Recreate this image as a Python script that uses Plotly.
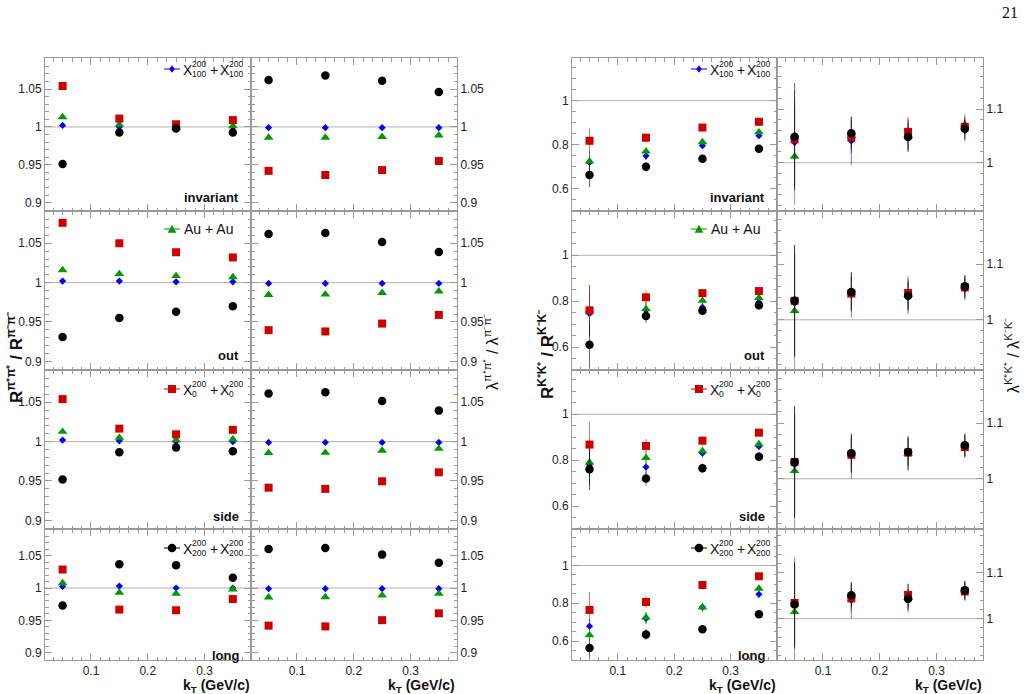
import plotly.graph_objects as go

# ---------------- data ----------------
kT = [0.05, 0.15, 0.25, 0.35]
series_names = ["X100", "AuAu", "X0", "X200"]   # blue, green, red, black

# pion radius ratios R(pi+pi+)/R(pi-pi-)  [blue, green, red, black]
Rpi_inv = [[1.002, 1.000, 1.000, 1.000], [1.013, 1.003, 0.999, 1.001],
           [1.054, 1.011, 1.0035, 1.009], [0.951, 0.9925, 0.998, 0.9925]]
Rpi_out = [[1.002, 1.002, 1.001, 1.001], [1.016, 1.011, 1.0085, 1.007],
           [1.076, 1.050, 1.0386, 1.032], [0.931, 0.955, 0.963, 0.970]]
Rpi_side = [[1.002, 1.001, 1.000, 1.000], [1.0127, 1.005, 1.002, 1.003],
            [1.054, 1.0165, 1.0093, 1.015], [0.952, 0.9864, 0.9924, 0.9877]]
Rpi_long = [[1.0025, 1.003, 1.000, 1.000], [1.0077, 0.9928, 0.9913, 0.998],
            [1.0285, 0.9667, 0.9657, 0.983], [0.973, 1.0367, 1.035, 1.0158]]

# pion lambda ratios
Lpi_inv = [[0.999, 0.999, 0.999, 0.999], [0.986, 0.986, 0.987, 0.989],
           [0.942, 0.9365, 0.943, 0.955], [1.062, 1.068, 1.061, 1.046]]
Lpi_out = [[0.999, 0.999, 0.999, 0.999], [0.9845, 0.985, 0.987, 0.989],
           [0.9396, 0.938, 0.948, 0.959], [1.0617, 1.063, 1.0517, 1.039]]
Lpi_side = [[0.999, 0.999, 0.999, 0.999], [0.9856, 0.986, 0.9886, 0.991],
            [0.9415, 0.940, 0.9496, 0.961], [1.061, 1.0627, 1.0517, 1.0394]]
Lpi_long = [[0.999, 0.999, 0.999, 0.999], [0.9857, 0.986, 0.9887, 0.9913],
            [0.942, 0.9408, 0.9504, 0.961], [1.060, 1.0617, 1.0515, 1.0388]]
pi_err = [[0.003] * 4, [0.001] * 4, [0.001] * 4, [0.001] * 4]

# kaon radius ratios
RK_inv = [[0.72, 0.750, 0.796, 0.841], [0.725, 0.770, 0.812, 0.857],
          [0.818, 0.832, 0.878, 0.904], [0.663, 0.700, 0.737, 0.782]]
RK_inv_err = [[0.05, 0.02, 0.015, 0.01], [0.04, 0.02, 0.015, 0.015],
              [0.055, 0.02, 0.012, 0.01], [0.055, 0.02, 0.015, 0.012]]
RK_out = [[0.745, 0.76, 0.774, 0.796], [0.76, 0.766, 0.802, 0.814],
          [0.760, 0.817, 0.835, 0.844], [0.610, 0.735, 0.758, 0.782]]
RK_out_err = [[0.1, 0.03, 0.02, 0.015], [0.11, 0.03, 0.02, 0.015],
              [0.11, 0.03, 0.015, 0.012], [0.1, 0.03, 0.02, 0.02]]
RK_side = [[0.78, 0.77, 0.83, 0.86], [0.79, 0.81, 0.84, 0.87],
           [0.868, 0.862, 0.885, 0.92], [0.76, 0.72, 0.765, 0.815]]
RK_side_err = [[0.09, 0.03, 0.02, 0.015], [0.1, 0.03, 0.02, 0.015],
               [0.1, 0.03, 0.02, 0.015], [0.09, 0.03, 0.02, 0.02]]
RK_long = [[0.679, 0.72, 0.78, 0.848], [0.631, 0.725, 0.778, 0.878],
           [0.765, 0.807, 0.897, 0.943], [0.564, 0.635, 0.663, 0.742]]
RK_long_err = [[0.04, 0.03, 0.02, 0.02], [0.03, 0.03, 0.025, 0.02],
               [0.095, 0.03, 0.015, 0.015], [0.05, 0.03, 0.012, 0.015]]

# kaon lambda ratios
LK_inv = [[1.0375, 1.0405, 1.05, 1.06], [1.0115, 1.05, 1.05, 1.071],
          [1.0436, 1.047, 1.0575, 1.0667], [1.0484, 1.055, 1.048, 1.063]]
LK_inv_err = [[0.08, 0.045, 0.03, 0.02], [0.09, 0.03, 0.03, 0.02],
              [0.09, 0.03, 0.028, 0.02], [0.10, 0.031, 0.025, 0.02]]
LK_out = [[1.03, 1.045, 1.04, 1.055], [1.016, 1.048, 1.045, 1.06],
          [1.034, 1.047, 1.048, 1.058], [1.034, 1.05, 1.043, 1.06]]
LK_out_err = [[0.09, 0.04, 0.03, 0.02], [0.1, 0.03, 0.03, 0.02],
              [0.1, 0.03, 0.03, 0.02], [0.1, 0.035, 0.025, 0.02]]
LK_side = [[1.025, 1.04, 1.045, 1.06], [1.014, 1.045, 1.045, 1.06],
           [1.03, 1.043, 1.047, 1.057], [1.03, 1.046, 1.048, 1.06]]
LK_side_err = [[0.09, 0.04, 0.03, 0.02], [0.1, 0.03, 0.03, 0.02],
               [0.1, 0.03, 0.03, 0.02], [0.1, 0.035, 0.025, 0.02]]
LK_long = [[1.03, 1.04, 1.045, 1.06], [1.0146, 1.05, 1.045, 1.062],
           [1.034, 1.044, 1.0517, 1.059], [1.0306, 1.051, 1.043, 1.062]]
LK_long_err = [[0.09, 0.04, 0.03, 0.02], [0.1, 0.03, 0.03, 0.02],
               [0.1, 0.03, 0.025, 0.02], [0.093, 0.027, 0.022, 0.02]]

projections = ["invariant", "out", "side", "long"]
legend_labels = [("X", "200", "100"), ("Au + Au", None, None),
                 ("X", "200", "0"), ("X", "200", "200")]

# ---------------- style ----------------
W, H = 1028, 694
col_px = [(45, 251), (251, 457), (572, 777), (777, 983)]
row_px = [(58, 211), (211, 370), (370, 529), (529, 660)]
colors = ["#0000ff", "#009900", "#cc0000", "#000000"]
err_colors = ["rgba(0,0,255,0.55)", "rgba(0,153,0,0.6)", "rgba(204,0,0,0.55)", "rgba(0,0,0,0.6)"]
symbols = ["diamond", "triangle-up", "square", "circle"]
msizes = [5.5, 8.5, 8, 8.5]
FRAME = "#9a9a9a"
FONT = "Liberation Sans"


def fx(px):
    return px / W


def fy(py):
    return 1 - py / H


panels = [
    [(Rpi_inv, pi_err), (Lpi_inv, pi_err), (RK_inv, RK_inv_err), (LK_inv, LK_inv_err)],
    [(Rpi_out, pi_err), (Lpi_out, pi_err), (RK_out, RK_out_err), (LK_out, LK_out_err)],
    [(Rpi_side, pi_err), (Lpi_side, pi_err), (RK_side, RK_side_err), (LK_side, LK_side_err)],
    [(Rpi_long, pi_err), (Lpi_long, pi_err), (RK_long, RK_long_err), (LK_long, LK_long_err)],
]
yranges = [[0.889, 1.091], [0.889, 1.091], [0.5, 1.193], [0.91, 1.195]]
ydticks = [0.05, 0.05, 0.2, 0.1]
yminor = [0.01, 0.01, 0.05, 0.02]
ysides = ["left", "right", "left", "right"]

fig = go.Figure()
layout = dict(width=W, height=H, margin=dict(l=0, r=0, t=0, b=0),
              paper_bgcolor="white", plot_bgcolor="rgba(0,0,0,0)",
              showlegend=False, font=dict(family=FONT, color="#222"))
shapes = []
annotations = []

for r in range(4):
    for c in range(4):
        k = r * 4 + c + 1
        xs = "x" if k == 1 else f"x{k}"
        ys = "y" if k == 1 else f"y{k}"
        xkey = "xaxis" if k == 1 else f"xaxis{k}"
        ykey = "yaxis" if k == 1 else f"yaxis{k}"
        x0, x1 = col_px[c]
        y0, y1 = row_px[r]
        layout[xkey] = dict(
            domain=[fx(x0), fx(x1)], range=[0.019, 0.382], anchor=ys,
            showline=True, linecolor=FRAME, linewidth=1, mirror="ticks",
            ticks="inside", ticklen=7, tickcolor=FRAME, dtick=0.1, tick0=0,
            minor=dict(ticks="inside", ticklen=3.5, dtick=1 / 60, tick0=0, tickcolor=FRAME),
            showgrid=False, zeroline=False, showticklabels=(r == 3),
            tickfont=dict(size=12, family=FONT, color="#222"))
        layout[ykey] = dict(
            domain=[fy(y1), fy(y0)], range=yranges[c], anchor=xs, side=ysides[c],
            showline=True, linecolor=FRAME, linewidth=1, mirror="ticks",
            ticks="inside", ticklen=7, tickcolor=FRAME, dtick=ydticks[c], tick0=0,
            minor=dict(ticks="inside", ticklen=3.5, dtick=yminor[c], tick0=0, tickcolor=FRAME),
            showgrid=False, zeroline=False,
            tickfont=dict(size=12, family=FONT, color="#222"))
        # reference line at unity
        shapes.append(dict(type="line", xref=f"{xs} domain", yref=ys, x0=0, x1=1,
                           y0=1, y1=1, line=dict(color="#b0b0b0", width=1), layer="below"))
        vals, errs = panels[r][c]
        for s in range(4):
            fig.add_trace(go.Scatter(
                x=kT, y=vals[s], xaxis=xs, yaxis=ys, mode="markers",
                marker=dict(symbol=symbols[s], size=msizes[s], color=colors[s],
                            line=dict(width=0)),
                error_y=dict(type="data", array=errs[s], color=err_colors[s],
                             thickness=1, width=0),
                name=series_names[s], hoverinfo="x+y"))

# projection labels and legend keys
label_y = [197, 355, 516, 655]
legend_y = [69, 229, 389, 548]
for r in range(4):
    for off, cright in ((0, 251), (527, 777)):
        annotations.append(dict(x=fx(cright - 10), y=fy(label_y[r]), xref="paper", yref="paper",
                                text=f"<b>{projections[r]}</b>", showarrow=False,
                                xanchor="right", yanchor="middle",
                                font=dict(size=13, family=FONT, color="#111")))
        mx = 172 + off
        yy = legend_y[r]
        col = colors[r]
        shapes.append(dict(type="line", xref="paper", yref="paper",
                           x0=fx(mx - 8), x1=fx(mx + 8), y0=fy(yy), y1=fy(yy),
                           line=dict(color=col, width=1)))
        sym = symbols[r]
        if sym == "circle":
            shapes.append(dict(type="circle", xref="paper", yref="paper",
                               x0=fx(mx - 4.3), x1=fx(mx + 4.3), y0=fy(yy + 4.3), y1=fy(yy - 4.3),
                               fillcolor=col, line=dict(width=0)))
        elif sym == "square":
            shapes.append(dict(type="rect", xref="paper", yref="paper",
                               x0=fx(mx - 4), x1=fx(mx + 4), y0=fy(yy + 4), y1=fy(yy - 4),
                               fillcolor=col, line=dict(width=0)))
        elif sym == "triangle-up":
            p = (f"M {fx(mx-4.3)},{fy(yy+3.7)} L {fx(mx+4.3)},{fy(yy+3.7)} "
                 f"L {fx(mx)},{fy(yy-4.3)} Z")
            shapes.append(dict(type="path", xref="paper", yref="paper", path=p,
                               fillcolor=col, line=dict(width=0)))
        else:
            p = (f"M {fx(mx-2.8)},{fy(yy)} L {fx(mx)},{fy(yy-3.8)} L {fx(mx+2.8)},{fy(yy)} "
                 f"L {fx(mx)},{fy(yy+3.8)} Z")
            shapes.append(dict(type="path", xref="paper", yref="paper", path=p,
                               fillcolor=col, line=dict(width=0)))
        base, sup, sub = legend_labels[r]
        if sup is None:
            annotations.append(dict(x=fx(mx + 10), y=fy(yy), xref="paper", yref="paper",
                                    text=base, showarrow=False, xanchor="left",
                                    yanchor="middle", font=dict(size=14, family=FONT, color="#111")))
        else:
            for dx in (10, 47):
                annotations.append(dict(x=fx(mx + dx), y=fy(yy + 0.5), xref="paper", yref="paper",
                                        text=base, showarrow=False, xanchor="left",
                                        yanchor="middle", borderpad=0,
                                        font=dict(size=14, family=FONT, color="#111")))
                annotations.append(dict(x=fx(mx + dx + 9), y=fy(yy - 5), xref="paper", yref="paper",
                                        text=sup, showarrow=False, xanchor="left",
                                        yanchor="middle", borderpad=0,
                                        font=dict(size=8.5, family=FONT, color="#111")))
                annotations.append(dict(x=fx(mx + dx + 9), y=fy(yy + 5), xref="paper", yref="paper",
                                        text=sub, showarrow=False, xanchor="left",
                                        yanchor="middle", borderpad=0,
                                        font=dict(size=8.5, family=FONT, color="#111")))
            annotations.append(dict(x=fx(mx + 37), y=fy(yy + 0.5), xref="paper", yref="paper",
                                    text="+", showarrow=False, xanchor="left",
                                    yanchor="middle", borderpad=0,
                                    font=dict(size=14, family=FONT, color="#111")))

# x-axis titles
for cright in (251, 456, 777, 983):
    annotations.append(dict(x=fx(cright), y=fy(686), xref="paper", yref="paper",
                            text="<b>k<sub>T</sub> (GeV/c)</b>", showarrow=False,
                            xanchor="right", yanchor="middle", borderpad=0,
                            font=dict(size=14, family=FONT, color="#111")))

# y-axis titles
annotations += [
    dict(x=fx(15), y=fy(358), xref="paper", yref="paper", textangle=-90,
         text="<b>R<sup>π⁺π⁺</sup> / R<sup>π⁻π⁻</sup></b>", showarrow=False,
         xanchor="center", yanchor="middle", font=dict(size=17, family=FONT, color="#111")),
    dict(x=fx(491), y=fy(352), xref="paper", yref="paper", textangle=-90,
         text="λ<sup>π⁺π⁺</sup> / λ<sup>π⁻π⁻</sup>", showarrow=False,
         xanchor="center", yanchor="middle", font=dict(size=16, family=FONT, color="#111")),
    dict(x=fx(546), y=fy(355), xref="paper", yref="paper", textangle=-90,
         text="<b>R<sup>K⁺K⁺</sup> / R<sup>K⁻K⁻</sup></b>", showarrow=False,
         xanchor="center", yanchor="middle", font=dict(size=17, family=FONT, color="#111")),
    dict(x=fx(1012), y=fy(356), xref="paper", yref="paper", textangle=-90,
         text="λ<sup>K⁺K⁺</sup> / λ<sup>K⁻K⁻</sup>", showarrow=False,
         xanchor="center", yanchor="middle", font=dict(size=16, family=FONT, color="#111")),
    dict(x=fx(1020), y=fy(13), xref="paper", yref="paper", text="21", showarrow=False,
         xanchor="right", yanchor="middle", font=dict(size=16, family="Liberation Serif", color="#111")),
]

layout["shapes"] = shapes
layout["annotations"] = annotations
fig.update_layout(**layout)
fig.write_html("out.html")
